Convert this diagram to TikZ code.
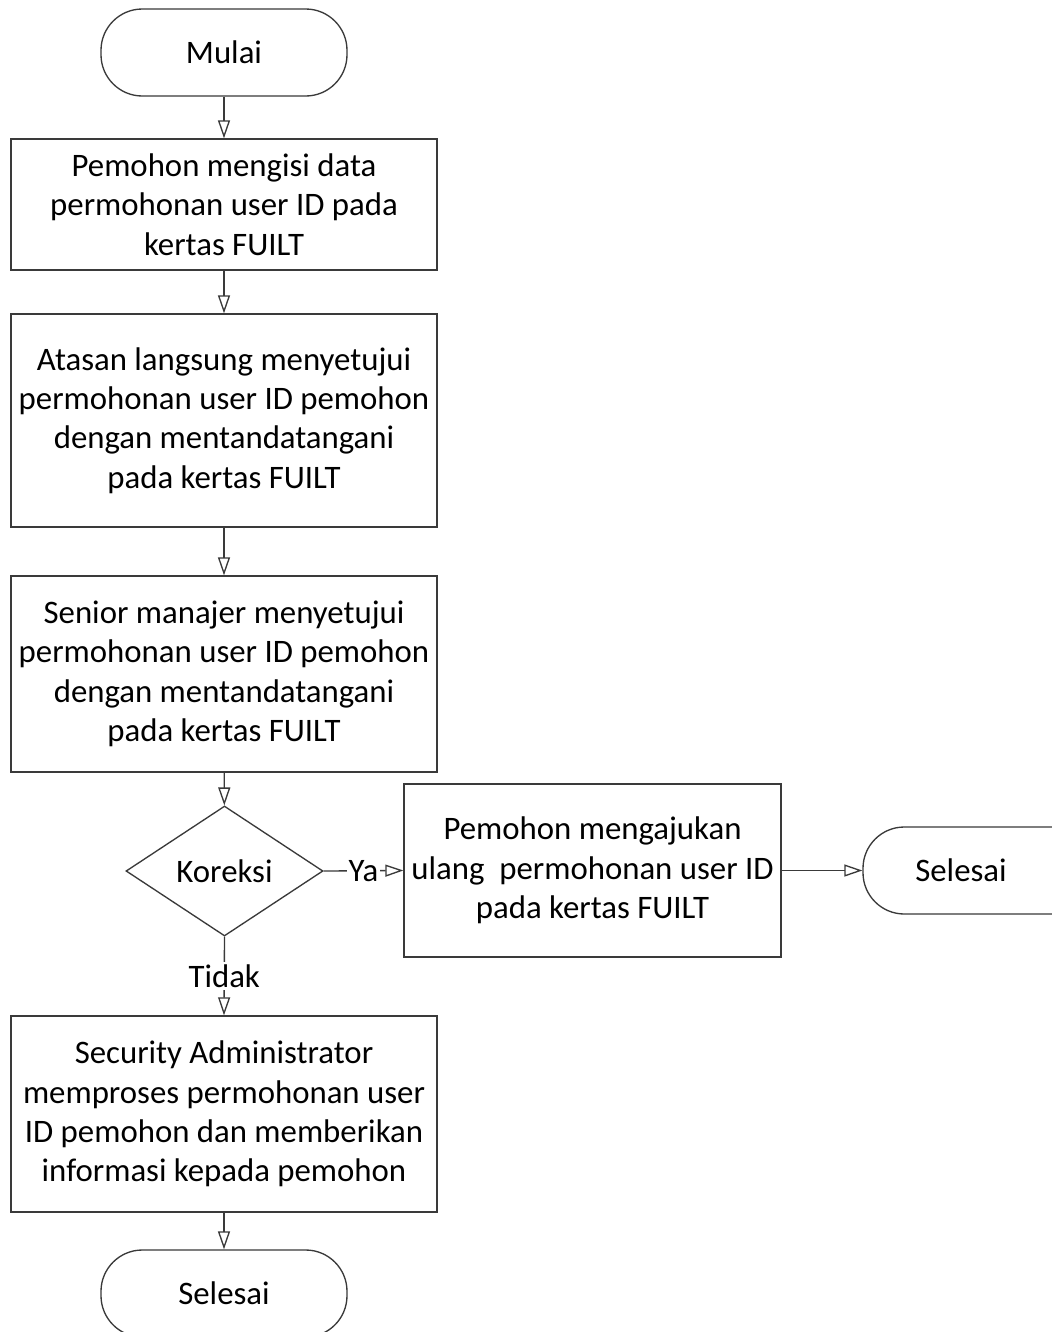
\documentclass[tikz,border=0pt]{standalone}
\usepackage{fontspec}
\setmainfont{Carlito}
\usetikzlibrary{arrows.meta,shapes.geometric}
\definecolor{linegray}{HTML}{3A3A3A}
\tikzset{
  txt/.style={font=\fontsize{24.6}{29.6}\selectfont},
  base/.style={draw=linegray, line width=1pt, inner sep=0pt, align=center, txt},
  process/.style={base, rectangle, minimum width=319.5pt},
  terminal/.style={base, rectangle, rounded corners=31pt,
    minimum width=184.5pt, minimum height=65.25pt},
  decision/.style={base, diamond, minimum width=147.75pt, minimum height=97.5pt},
  flow/.style={draw=linegray, line width=1pt,
    -{Triangle[open, fill=white, length=13.5pt, width=9pt]}},
  lbl/.style={fill=white, inner sep=2pt, txt}
}
\begin{document}
\begin{tikzpicture}[x=0.75pt, y=-0.75pt]
  \useasboundingbox (0,0) rectangle (1052,1332);
  \clip (0,0) rectangle (1052,1332);
  \fill[white] (0,0) rectangle (1052,1332);

  \node[terminal] (start) at (224,52.5) {Mulai};
  \node[process, minimum height=98.25pt] (fill) at (224,204.5)
    {Pemohon mengisi data\\permohonan user ID pada\\kertas FUILT};
  \node[process, minimum height=159.75pt] (boss) at (224,420.5)
    {Atasan langsung menyetujui\\permohonan user ID pemohon\\dengan mentandatangani\\pada kertas FUILT};
  \node[process, minimum height=147pt] (senior) at (224,674)
    {Senior manajer menyetujui\\permohonan user ID pemohon\\dengan mentandatangani\\pada kertas FUILT};
  \node[decision] (check) at (224.5,871) {Koreksi};
  \node[process, minimum width=282.75pt, minimum height=129.75pt] (resubmit) at (592.5,870.5)
    {Pemohon mengajukan\\ulang\ \ permohonan user ID\\pada kertas FUILT};
  \node[terminal] (endright) at (986,870.5) {Selesai\hspace*{37.5pt}};
  \node[process, minimum height=147pt] (admin) at (224,1114)
    {Security Administrator\\memproses permohonan user\\ID pemohon dan memberikan\\informasi kepada pemohon};
  \node[terminal] (endbottom) at (224,1293.5) {Selesai};

  \draw[flow] (start) -- (fill);
  \draw[flow] (fill) -- (boss);
  \draw[flow] (boss) -- (senior);
  \draw[flow] (senior) -- (check);
  \draw[flow] (check.east) -- node[lbl, inner sep=1pt] {Ya} (resubmit.west);
  \draw[flow] (resubmit) -- (endright);
  \draw[flow] (check.south) -- node[lbl] {Tidak} (admin.north);
  \draw[flow] (admin) -- (endbottom);
\end{tikzpicture}
\end{document}
